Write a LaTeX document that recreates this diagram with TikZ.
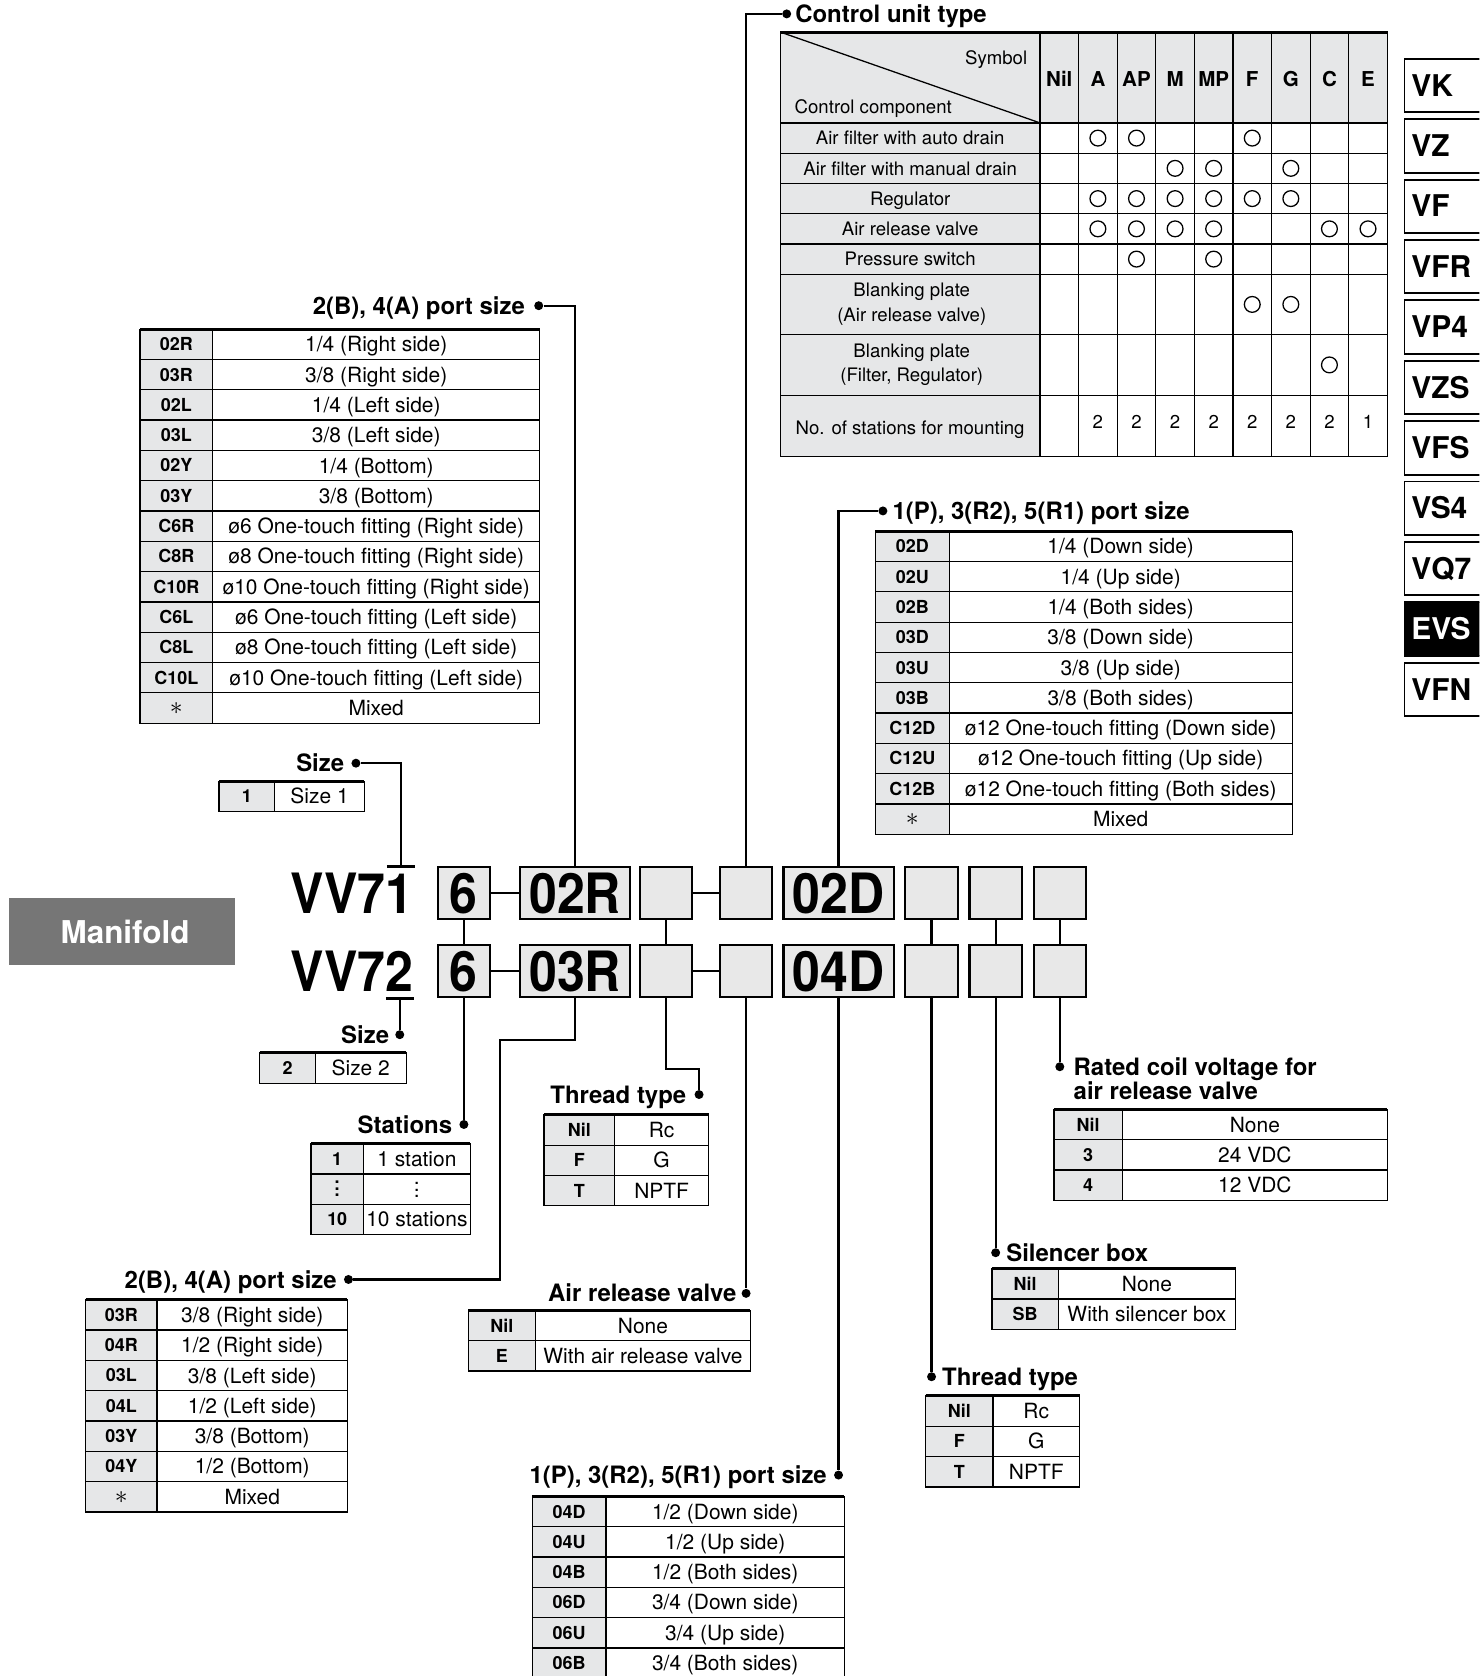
\documentclass[tikz,border=0pt]{standalone}
\usepackage{fontspec}
\setmainfont{TeX Gyre Heros}
\newfontfamily\vvcond[FakeStretch=0.9]{TeX Gyre Heros}
\usepackage{tikz}
\usetikzlibrary{positioning}
\definecolor{keygray}{RGB}{230,231,232}
\definecolor{boxgray}{RGB}{232,232,232}
\definecolor{mfgray}{RGB}{118,118,118}
\newcommand{\vvhead}{\bfseries\fontsize{11.2}{12}\selectfont}
\newcommand{\vvtab}{\fontsize{9.8}{11}\selectfont}
\newcommand{\vvkey}{\bfseries\fontsize{8.4}{10}\selectfont}
\newcommand{\vvctl}{\fontsize{8.7}{11.5}\selectfont}
\newcommand{\vvsym}{\bfseries\fontsize{9.6}{11}\selectfont}
\newcommand{\vvbig}{\vvcond\bfseries\fontsize{26}{28}\selectfont}
\newcommand{\vvtabs}{\bfseries\fontsize{14}{16}\selectfont}
\newcommand{\vvdots}{\raisebox{-0.6pt}{\vbox{\baselineskip3.1pt\lineskiplimit0pt\hbox{.}\hbox{.}\hbox{.}}}}
\newcommand{\vvast}{{\fontsize{13}{13}\selectfont$\ast$}}
\def\rowh{28.35}
% option table: name, left x, key width, total width, top y, rows
\newcommand{\opttab}[6]{%
  \foreach \k/\v [count=\i from 0] in {#6}{
    \pgfmathsetmacro{\ya}{#5+\i*\rowh}
    \path[keycell] (#2,\ya) rectangle ++(#3,\rowh);
    \path[valcell] ({#2+#3},\ya) rectangle ({#2+#4},{\ya+\rowh});
    \node[keytxt] (#1k\i) at ({#2+#3/2},{\ya+\rowh/2}) {\k};
    \node[valtxt] (#1v\i) at ({#2+(#3+#4)/2},{\ya+\rowh/2}) {\v};
  }
  \draw[topline] (#2,#5) -- ({#2+#4},#5);
}

\begin{document}
\begin{tikzpicture}[x=0.5pt,y=-0.5pt,
  wire/.style={line width=1pt},
  cellrule/.style={line width=0.6pt},
  topline/.style={line width=1.4pt},
  keycell/.style={draw,line width=0.6pt,fill=keygray},
  valcell/.style={draw,line width=0.6pt,fill=white},
  keytxt/.style={font=\vvkey,inner sep=0pt,text height=6pt,text depth=0pt},
  valtxt/.style={font=\vvtab,inner sep=0pt,text height=7pt,text depth=0pt},
  ctltxt/.style={font=\vvctl,inner sep=0pt,text height=6.3pt,text depth=0pt},
  ctltwo/.style={font=\vvctl,inner sep=0pt,align=center},
  symtxt/.style={font=\vvsym,inner sep=0pt,text height=6.9pt,text depth=0pt},
  headtxt/.style={font=\vvhead,inner sep=0pt,text height=8pt,text depth=0pt},
  knob/.style={circle,fill,inner sep=0pt,minimum size=4.2pt},
  codebox/.style={draw,line width=1pt,fill=boxgray,inner sep=0pt,minimum height=24.5pt,minimum width=24.5pt,font=\vvbig,text height=18.7pt,text depth=0pt},
  wide/.style={minimum width=51.5pt},
  codetxt/.style={font=\vvbig,inner sep=0pt,text height=18.7pt,text depth=0pt},
  tabtxt/.style={font=\vvtabs,inner sep=0pt,text height=10pt,text depth=0pt,anchor=west}]
\useasboundingbox (0,0) rectangle (1384,1568);
\clip (0,0) rectangle (1384,1568);
\fill[white] (0,0) rectangle (1384,1568);

% manifold tag and model codes
\node[fill=mfgray,text=white,font=\bfseries\fontsize{14.7}{16}\selectfont,minimum width=106pt,minimum height=31.5pt] (manifold) at (114,871.5) {\hspace*{3pt}Manifold};
\node[codetxt,anchor=east] (vv1) at (387,835.5) {VV71};
\node[codetxt,anchor=east] (vv2) at (387,908.5) {VV72};
\coordinate (bar1) at (375,810.5);
\coordinate (bar2) at (374,934);
\draw[line width=1.4pt] ([xshift=-6.5pt]bar1) -- ([xshift=6.5pt]bar1);
\draw[line width=1.4pt] ([xshift=-6.5pt]bar2) -- ([xshift=6.5pt]bar2);

% code boxes
\node[codebox] (r1c1) at (434,835.5) {6};
\node[codebox,wide] (r1c2) at (538,835.5) {02R};
\node[codebox] (r1c3) at (623,835.5) {};
\node[codebox] (r1c4) at (698,835.5) {};
\node[codebox,wide] (r1c5) at (784.5,835.5) {02D};
\node[codebox] (r1c6) at (871.5,835.5) {};
\node[codebox] (r1c7) at (931.5,835.5) {};
\node[codebox] (r1c8) at (991.5,835.5) {};
\node[codebox] (r2c1) at (434,908.5) {6};
\node[codebox,wide] (r2c2) at (538,908.5) {03R};
\node[codebox] (r2c3) at (623,908.5) {};
\node[codebox] (r2c4) at (698,908.5) {};
\node[codebox,wide] (r2c5) at (784.5,908.5) {04D};
\node[codebox] (r2c6) at (871.5,908.5) {};
\node[codebox] (r2c7) at (931.5,908.5) {};
\node[codebox] (r2c8) at (991.5,908.5) {};
\draw[wire] (r1c1) -- (r1c2);
\draw[wire] (r1c3) -- (r1c4);
\draw[wire] (r2c1) -- (r2c2);
\draw[wire] (r2c3) -- (r2c4);
\foreach \c in {1,3,6,7,8} \draw[wire] (r1c\c) -- (r2c\c);

% heading dots
\node[knob] (dCtrl) at (736,13) {};
\node[knob] (dPortA) at (504,286) {};
\node[knob] (dSizeA) at (333,714) {};
\node[knob] (dPortP) at (826,478) {};
\node[knob] (dSizeB) at (374,968) {};
\node[knob] (dStat) at (434,1052) {};
\node[knob] (dPortB) at (326,1197) {};
\node[knob] (dThrA) at (654,1024) {};
\node[knob] (dAir) at (698,1210) {};
\node[knob] (dPortQ) at (784.5,1380) {};
\node[knob] (dThrB) at (871.5,1288) {};
\node[knob] (dSil) at (931.5,1172) {};
\node[knob] (dCoil) at (991.5,998) {};
\coordinate (jogB) at (468,973);
\coordinate (jogT) at (654,1000);

% connectors
\draw[wire] (bar1) |- (dSizeA);
\draw[wire] (r1c2.north) |- (dPortA);
\draw[wire] (r1c4.north) |- (dCtrl);
\draw[wire] (r1c5.north) |- (dPortP);
\draw[wire] (bar2) -- (dSizeB);
\draw[wire] (r2c1) -- (dStat);
\draw[wire] (r2c2.south) |- (jogB) |- (dPortB);
\draw[wire] (r2c3.south) |- (jogT) -- (dThrA);
\draw[wire] (r2c4) -- (dAir);
\draw[wire] (r2c5) -- (dPortQ);
\draw[wire] (r2c6) -- (dThrB);
\draw[wire] (r2c7) -- (dSil);
\draw[wire] (r2c8) -- (dCoil);

% headings
\node[headtxt,right=1.5pt of dCtrl] (hCtrl) {Control unit type};
\node[headtxt,left=4pt of dPortA] (hPortA) {2(B), 4(A) port size};
\node[headtxt,left=3pt of dSizeA] (hSizeA) {Size};
\node[headtxt,right=2pt of dPortP] (hPortP) {1(P), 3(R2), 5(R1) port size};
\node[headtxt,left=2.5pt of dSizeB] (hSizeB) {Size};
\node[headtxt,left=3pt of dStat] (hStat) {Stations};
\node[headtxt,left=3pt of dPortB] (hPortB) {2(B), 4(A) port size};
\node[headtxt,left=3.5pt of dThrA] (hThrA) {Thread type};
\node[headtxt,left=2pt of dAir] (hAir) {Air release valve};
\node[headtxt,left=3pt of dPortQ] (hPortQ) {1(P), 3(R2), 5(R1) port size};
\node[headtxt,right=2.5pt of dThrB] (hThrB) {Thread type};
\node[headtxt,right=2.5pt of dSil] (hSil) {Silencer box};
\node[headtxt,right=4pt of dCoil] (hCoil) {Rated coil voltage for};
\node[headtxt,anchor=north west] (hCoil2) at ([yshift=-3pt]hCoil.south west) {air release valve};

% option tables
\opttab{pa}{131}{68}{374}{308}{02R/{1/4 (Right side)},03R/{3/8 (Right side)},02L/{1/4 (Left side)},03L/{3/8 (Left side)},02Y/{1/4 (Bottom)},03Y/{3/8 (Bottom)},C6R/{ø6 One-touch fitting (Right side)},C8R/{ø8 One-touch fitting (Right side)},C10R/{ø10 One-touch fitting (Right side)},C6L/{ø6 One-touch fitting (Left side)},C8L/{ø8 One-touch fitting (Left side)},C10L/{ø10 One-touch fitting (Left side)},{\vvast}/Mixed}
\opttab{pp}{819}{69}{390}{497}{02D/{1/4 (Down side)},02U/{1/4 (Up side)},02B/{1/4 (Both sides)},03D/{3/8 (Down side)},03U/{3/8 (Up side)},03B/{3/8 (Both sides)},C12D/{ø12 One-touch fitting (Down side)},C12U/{ø12 One-touch fitting (Up side)},C12B/{ø12 One-touch fitting (Both sides)},{\vvast}/Mixed}
\opttab{sa}{205}{52}{136}{731}{1/Size 1}
\opttab{sb}{243}{52}{137}{985}{2/Size 2}
\opttab{st}{291}{49}{149}{1070}{1/1 station,{\vvdots}/{\vvdots},10/10 stations}
\opttab{pb}{80}{67}{245}{1216}{03R/{3/8 (Right side)},04R/{1/2 (Right side)},03L/{3/8 (Left side)},04L/{1/2 (Left side)},03Y/{3/8 (Bottom)},04Y/{1/2 (Bottom)},{\vvast}/Mixed}
\opttab{ta}{509}{66}{154}{1043}{Nil/Rc,F/G,T/NPTF}
\opttab{av}{438}{63}{264}{1226}{Nil/None,E/With air release valve}
\opttab{pq}{498}{69}{292}{1400}{04D/{1/2 (Down side)},04U/{1/2 (Up side)},04B/{1/2 (Both sides)},06D/{3/4 (Down side)},06U/{3/4 (Up side)},06B/{3/4 (Both sides)}}
\opttab{tb}{866}{63}{144}{1306}{Nil/Rc,F/G,T/NPTF}
\opttab{sl}{928}{62}{228}{1187}{Nil/None,SB/With silencer box}
\opttab{cv}{986}{64}{312}{1038}{Nil/None,3/24 VDC,4/12 VDC}

% control unit table
\fill[keygray] (730,30) rectangle (1298,115);
\fill[keygray] (730,115) rectangle (973,426.8);
\foreach \y in {115,143.3,171.6,199.9,228.2,256.5,313.1,369.7} \draw[cellrule] (730,\y) -- (1298,\y);
\foreach \i in {0,...,8} \draw[cellrule] ({973+\i*36.1},30) -- ({973+\i*36.1},426.8);
\draw[cellrule] (730,30) rectangle (1298,426.8);
\draw[cellrule] (730,30) -- (973,115);
\draw[topline] (730,30) -- (1298,30);
\node[ctltxt] (symhead) at (932,54) {Symbol};
\node[ctltxt] (comphead) at (817,100) {Control component};
\foreach \s [count=\i from 0] in {Nil,A,AP,M,MP,F,G,C,E}
  \node[symtxt] (sym\i) at ({991.05+\i*36.1},74) {\s};
\foreach \r/\y [count=\i] in {Air filter with auto drain/129.2,Air filter with manual drain/157.5,Regulator/185.8,Air release valve/214.1,Pressure switch/242.4,No. of stations for mounting/400}
  \node[ctltxt] (comp\i) at (851.5,\y) {\r};
\node[ctltwo] (comp7) at (853,284.8) {Blanking plate\\(Air release valve)};
\node[ctltwo] (comp8) at (853,341.4) {Blanking plate\\(Filter, Regulator)};
\foreach \c/\y in {1/129.2,2/129.2,5/129.2,3/157.5,4/157.5,6/157.5,1/185.8,2/185.8,3/185.8,4/185.8,5/185.8,6/185.8,1/214.1,2/214.1,3/214.1,4/214.1,7/214.1,8/214.1,2/242.4,4/242.4,5/284.8,6/284.8,7/341.4}
  \draw[cellrule] ({991.05+\c*36.1},\y) circle (3.7pt);
\foreach \n [count=\i] in {2,2,2,2,2,2,2,1}
  \node[ctltxt] (stn\i) at ({991.05+\i*36.1},395) {\n};

% series tabs
\foreach \t/\fc/\tc [count=\i from 0] in {VK/white/black,VZ/white/black,VF/white/black,VFR/white/black,VP4/white/black,VZS/white/black,VFS/white/black,VS4/white/black,VQ7/white/black,EVS/black/white,VFN/white/black}{
  \draw[line width=0.9pt,fill=\fc] (1314,{55+\i*56.5}) rectangle ++(100,50);
  \node[tabtxt,text=\tc] (tab\i) at (1320,{80+\i*56.5}) {\t};
}
\end{tikzpicture}
\end{document}
